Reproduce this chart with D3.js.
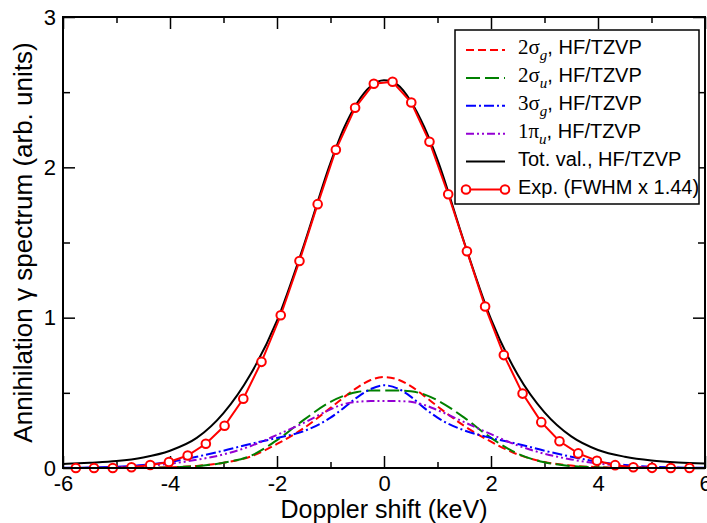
<!DOCTYPE html>
<meta charset="utf-8">
<head>
  <script src="https://d3js.org/d3.v7.min.js"></script>
  <style>
    body { margin: 0; background: #fff; }
    text { font-family: "Liberation Sans", Arial, sans-serif; }
  </style>
</head>
<body>
<div id="chart"></div>
<script>

// grid of the computed curves (keV)
var xGrid   = [-6, -5.5, -5, -4.5, -4, -3.5, -3, -2.5, -2, -1.5, -1, -0.75, -0.5, -0.25, 0, 0.25, 0.5, 0.75, 1, 1.5, 2, 2.5, 3, 3.5, 4, 4.5, 5, 5.5, 6];
var totVal  = [0.027, 0.035, 0.046, 0.07, 0.115, 0.2, 0.365, 0.62, 0.98, 1.48, 2.03, 2.26, 2.43, 2.54, 2.58, 2.55, 2.44, 2.27, 2.05, 1.5, 0.99, 0.62, 0.37, 0.21, 0.12, 0.075, 0.05, 0.037, 0.03];
var sig2g   = [0, 0, 0.001, 0.002, 0.005, 0.014, 0.035, 0.075, 0.16, 0.265, 0.4, 0.47, 0.535, 0.585, 0.605, 0.59, 0.545, 0.48, 0.41, 0.28, 0.175, 0.09, 0.04, 0.016, 0.006, 0.002, 0.001, 0, 0];
var sig2u   = [0, 0, 0, 0.001, 0.004, 0.012, 0.035, 0.08, 0.185, 0.32, 0.44, 0.48, 0.505, 0.515, 0.515, 0.515, 0.51, 0.49, 0.45, 0.335, 0.2, 0.095, 0.038, 0.013, 0.004, 0.001, 0, 0, 0];
var sig3g   = [0.001, 0.003, 0.008, 0.02, 0.042, 0.075, 0.115, 0.16, 0.2, 0.245, 0.335, 0.4, 0.47, 0.525, 0.55, 0.53, 0.475, 0.4, 0.335, 0.25, 0.2, 0.16, 0.115, 0.075, 0.042, 0.02, 0.008, 0.003, 0.001];
var pi1u    = [0, 0.001, 0.004, 0.012, 0.028, 0.055, 0.09, 0.145, 0.22, 0.3, 0.39, 0.425, 0.44, 0.445, 0.445, 0.445, 0.44, 0.42, 0.385, 0.305, 0.225, 0.15, 0.095, 0.057, 0.03, 0.013, 0.004, 0.001, 0];

// experiment (FWHM x 1.44)
var expX = [-5.76, -5.42, -5.07, -4.72, -4.37, -4.02, -3.67, -3.33, -2.98, -2.63, -2.29, -1.93, -1.58, -1.24, -0.90, -0.54, -0.19, 0.16, 0.51, 0.85, 1.20, 1.55, 1.89, 2.24, 2.59, 2.94, 3.28, 3.63, 3.98, 4.32, 4.66, 5.01, 5.36, 5.71];
var expY = [0, 0, 0, 0.005, 0.02, 0.04, 0.083, 0.161, 0.281, 0.461, 0.706, 1.016, 1.377, 1.755, 2.117, 2.396, 2.556, 2.569, 2.431, 2.17, 1.821, 1.442, 1.074, 0.751, 0.495, 0.305, 0.178, 0.097, 0.048, 0.019, 0.005, 0.001, 0, 0];

var xMajor = [-6, -4, -2, 0, 2, 4, 6];
var xMinor = [-5, -3, -1, 1, 3, 5];
var yMajor = [0, 1, 2, 3];
var yMinor = [0.5, 1.5, 2.5];

var series = [
  {vals: sig2g,  color: "#ff0000", dash: "8,4",          label: ["2σ", "g"]},
  {vals: sig2u,  color: "#008000", dash: "14,5",         label: ["2σ", "u"]},
  {vals: sig3g,  color: "#0000ff", dash: "10,3,2,3",     label: ["3σ", "g"]},
  {vals: pi1u,   color: "#9400d3", dash: "8,3,2,3,2,3",  label: ["1π", "u"]},
  {vals: totVal, color: "#000000", dash: null,           label: null, text: "Tot. val., HF/TZVP"}
];

var W = 707, H = 523;
var margin = {top: 17, right: 2, bottom: 55, left: 63};

var svg = d3.select("#chart").append("svg")
  .attr("width", W).attr("height", H);

var x = d3.scaleLinear().domain([-6, 6]).range([margin.left, W - margin.right]);
var y = d3.scaleLinear().domain([0, 3]).range([H - margin.bottom, margin.top]);

var fmt = function(d) { return String(d); };

// bottom axis (major with labels, minor without)
svg.append("g").attr("transform", "translate(0," + y(0) + ")")
  .call(d3.axisBottom(x).tickValues(xMajor).tickSize(-12).tickPadding(7).tickFormat(fmt));
svg.append("g").attr("transform", "translate(0," + y(0) + ")")
  .call(d3.axisBottom(x).tickValues(xMinor).tickSize(-6).tickFormat(""));
// top
svg.append("g").attr("transform", "translate(0," + y(3) + ")")
  .call(d3.axisTop(x).tickValues(xMajor).tickSize(-12).tickFormat(""));
svg.append("g").attr("transform", "translate(0," + y(3) + ")")
  .call(d3.axisTop(x).tickValues(xMinor).tickSize(-6).tickFormat(""));
// left
svg.append("g").attr("transform", "translate(" + x(-6) + ",0)")
  .call(d3.axisLeft(y).tickValues(yMajor).tickSize(-12).tickPadding(7).tickFormat(fmt));
svg.append("g").attr("transform", "translate(" + x(-6) + ",0)")
  .call(d3.axisLeft(y).tickValues(yMinor).tickSize(-7).tickFormat(""));
// right
svg.append("g").attr("transform", "translate(" + x(6) + ",0)")
  .call(d3.axisRight(y).tickValues(yMajor).tickSize(-12).tickFormat(""));
svg.append("g").attr("transform", "translate(" + x(6) + ",0)")
  .call(d3.axisRight(y).tickValues(yMinor).tickSize(-7).tickFormat(""));

svg.selectAll(".domain").remove();
svg.selectAll(".tick line").attr("stroke", "#000").attr("stroke-width", 1.5);
svg.selectAll(".tick text")
  .attr("fill", "#000")
  .style("font-size", "22px")
  .style("font-family", "'Liberation Sans', Arial, sans-serif");

// curves
var line = d3.line()
  .x(function(d, i) { return x(xGrid[i]); })
  .y(function(d) { return y(d); })
  .curve(d3.curveMonotoneX);

series.forEach(function(s) {
  svg.append("path")
    .datum(s.vals)
    .attr("fill", "none")
    .attr("stroke", s.color)
    .attr("stroke-width", 2)
    .attr("stroke-dasharray", s.dash)
    .attr("d", line);
});

// experimental line with circles
var expData = expX.map(function(v, i) { return [v, expY[i]]; });
svg.append("path")
  .datum(expData)
  .attr("fill", "none")
  .attr("stroke", "#ff0000")
  .attr("stroke-width", 2)
  .attr("d", d3.line().x(function(d) { return x(d[0]); }).y(function(d) { return y(d[1]); }));
svg.selectAll(".expdot")
  .data(expData)
  .enter().append("circle")
    .attr("class", "expdot")
    .attr("cx", function(d) { return x(d[0]); })
    .attr("cy", function(d) { return y(d[1]); })
    .attr("r", 4.3)
    .attr("fill", "#fff")
    .attr("stroke", "#ff0000")
    .attr("stroke-width", 2);

// frame
svg.append("rect")
  .attr("x", x(-6)).attr("y", y(3))
  .attr("width", x(6) - x(-6)).attr("height", y(0) - y(3))
  .attr("fill", "none").attr("stroke", "#000").attr("stroke-width", 2);

// axis titles
svg.append("text")
  .attr("x", (x(-6) + x(6)) / 2)
  .attr("y", 518)
  .attr("text-anchor", "middle")
  .style("font-size", "25px")
  .text("Doppler shift (keV)");

svg.append("text")
  .attr("transform", "translate(32," + ((y(0) + y(3)) / 2) + ") rotate(-90)")
  .attr("text-anchor", "middle")
  .style("font-size", "26px")
  .text("Annihilation γ spectrum (arb. units)");

// legend
var lg = svg.append("g");
lg.append("rect")
  .attr("x", 455).attr("y", 30).attr("width", 244).attr("height", 174)
  .attr("fill", "#fff").attr("stroke", "#000").attr("stroke-width", 1.5);

var rowY = function(i) { return 50 + i * 27.9; };

series.forEach(function(s, i) {
  lg.append("line")
    .attr("x1", 466).attr("x2", 505)
    .attr("y1", rowY(i)).attr("y2", rowY(i))
    .attr("stroke", s.color).attr("stroke-width", 2)
    .attr("stroke-dasharray", s.dash);
  var t = lg.append("text")
    .attr("x", 518).attr("y", rowY(i) + 4)
    .style("font-size", "20px");
  if (s.label) {
    t.append("tspan").style("font-family", "'Liberation Serif', 'Times New Roman', serif")
      .style("font-size", "21px").text(s.label[0]);
    t.append("tspan").style("font-family", "'Liberation Serif', 'Times New Roman', serif")
      .style("font-style", "italic").style("font-size", "15px")
      .attr("dy", 6).text(s.label[1]);
    t.append("tspan").attr("dy", -6).text(", HF/TZVP");
  } else {
    t.text(s.text);
  }
});

// exp legend entry
var ey = rowY(5);
lg.append("line")
  .attr("x1", 466).attr("x2", 505).attr("y1", ey).attr("y2", ey)
  .attr("stroke", "#ff0000").attr("stroke-width", 2);
[466, 505].forEach(function(cx) {
  lg.append("circle").attr("cx", cx).attr("cy", ey).attr("r", 4.3)
    .attr("fill", "#fff").attr("stroke", "#ff0000").attr("stroke-width", 2);
});
lg.append("text").attr("x", 518).attr("y", ey + 4)
  .style("font-size", "20px").text("Exp. (FWHM x 1.44)");

</script>
</body>
